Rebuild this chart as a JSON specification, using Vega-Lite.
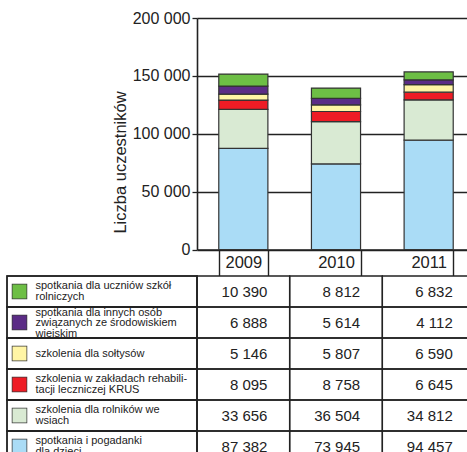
{
  "$schema": "https://vega.github.io/schema/vega-lite/v6.json",
  "padding": {"left": 3, "top": 10, "right": 0, "bottom": 0},
  "autosize": {"type": "pad"},
  "background": "white",
  "config": {
    "font": "Liberation Sans",
    "view": {"stroke": null},
    "locale": {"number": {"decimal": ",", "thousands": " ", "grouping": [3], "currency": ["", " zł"]}}
  },
  "datasets": {
    "main": [
      {"rok": "2009", "kategoria": "spotkania i pogadanki dla dzieci", "kolejnosc": 1, "liczba": 87382},
      {"rok": "2009", "kategoria": "szkolenia dla rolników we wsiach", "kolejnosc": 2, "liczba": 33656},
      {"rok": "2009", "kategoria": "szkolenia w zakładach rehabilitacji leczniczej KRUS", "kolejnosc": 3, "liczba": 8095},
      {"rok": "2009", "kategoria": "szkolenia dla sołtysów", "kolejnosc": 4, "liczba": 5146},
      {"rok": "2009", "kategoria": "spotkania dla innych osób związanych ze środowiskiem wiejskim", "kolejnosc": 5, "liczba": 6888},
      {"rok": "2009", "kategoria": "spotkania dla uczniów szkół rolniczych", "kolejnosc": 6, "liczba": 10390},
      {"rok": "2010", "kategoria": "spotkania i pogadanki dla dzieci", "kolejnosc": 1, "liczba": 73945},
      {"rok": "2010", "kategoria": "szkolenia dla rolników we wsiach", "kolejnosc": 2, "liczba": 36504},
      {"rok": "2010", "kategoria": "szkolenia w zakładach rehabilitacji leczniczej KRUS", "kolejnosc": 3, "liczba": 8758},
      {"rok": "2010", "kategoria": "szkolenia dla sołtysów", "kolejnosc": 4, "liczba": 5807},
      {"rok": "2010", "kategoria": "spotkania dla innych osób związanych ze środowiskiem wiejskim", "kolejnosc": 5, "liczba": 5614},
      {"rok": "2010", "kategoria": "spotkania dla uczniów szkół rolniczych", "kolejnosc": 6, "liczba": 8812},
      {"rok": "2011", "kategoria": "spotkania i pogadanki dla dzieci", "kolejnosc": 1, "liczba": 94457},
      {"rok": "2011", "kategoria": "szkolenia dla rolników we wsiach", "kolejnosc": 2, "liczba": 34812},
      {"rok": "2011", "kategoria": "szkolenia w zakładach rehabilitacji leczniczej KRUS", "kolejnosc": 3, "liczba": 6645},
      {"rok": "2011", "kategoria": "szkolenia dla sołtysów", "kolejnosc": 4, "liczba": 6590},
      {"rok": "2011", "kategoria": "spotkania dla innych osób związanych ze środowiskiem wiejskim", "kolejnosc": 5, "liczba": 4112},
      {"rok": "2011", "kategoria": "spotkania dla uczniów szkół rolniczych", "kolejnosc": 6, "liczba": 6832}
    ]
  },
  "columns": 2,
  "align": "each",
  "bounds": "flush",
  "spacing": {"row": 26, "column": 0},
  "concat": [
    {
      "width": 190,
      "height": 231.5,
      "data": {"values": []},
      "mark": {"type": "point"},
      "encoding": {
        "x": {"datum": 0, "type": "quantitative", "axis": null},
        "y": {"datum": 0, "type": "quantitative", "axis": null}
      }
    },
    {
      "width": 278,
      "height": 231.5,
      "data": {"name": "main"},
      "mark": {"type": "bar", "stroke": "#333333", "strokeWidth": 1.2},
      "encoding": {
        "x": {
          "field": "rok", "type": "ordinal",
          "scale": {"paddingInner": 0.47, "paddingOuter": 0.235},
          "axis": {"title": null, "labelAngle": 0, "labelFontSize": 16.5, "labelColor": "#222222", "labelPadding": -21, "labelBaseline": "top", "tickBand": "extent", "tickSize": 26, "tickWidth": 1.4, "tickColor": "#222222", "domainColor": "#222222", "domainWidth": 1.6, "grid": false}
        },
        "y": {
          "field": "liczba", "type": "quantitative", "stack": "zero",
          "scale": {"domain": [0, 200000], "nice": false},
          "axis": {"title": "Liczba uczestników", "titleFontSize": 16.5, "titleFontWeight": "normal", "titleColor": "#222222", "titleX": -69, "titleY": 144, "values": [0, 50000, 100000, 150000, 200000], "format": ",d", "labelFontSize": 16, "labelColor": "#222222", "labelPadding": 2, "tickSize": 5, "tickColor": "#222222", "tickWidth": 1.3, "domainColor": "#222222", "domainWidth": 1.6, "grid": true, "gridColor": "#222222", "gridWidth": 1.3}
        },
        "color": {
          "field": "kategoria", "type": "nominal",
          "scale": {
            "domain": ["spotkania i pogadanki dla dzieci", "szkolenia dla rolników we wsiach", "szkolenia w zakładach rehabilitacji leczniczej KRUS", "szkolenia dla sołtysów", "spotkania dla innych osób związanych ze środowiskiem wiejskim", "spotkania dla uczniów szkół rolniczych"],
            "range": ["#aadcf6", "#d9ead3", "#ee1c25", "#fff5a5", "#5b2c86", "#6dbe45"]
          },
          "legend": null
        },
        "order": {"field": "kolejnosc", "type": "quantitative", "sort": "ascending"}
      }
    },
    {
      "width": 190,
      "height": 186,
      "data": {"name": "main"},
      "transform": [{"filter": "datum.rok == '2009'"}],
      "encoding": {
        "x": {"datum": 0, "type": "quantitative", "scale": {"domain": [0, 1]}, "axis": null},
        "x2": {"datum": 1}
      },
      "layer": [
        {
          "mark": {"type": "rect", "filled": false, "stroke": "#222222", "strokeWidth": 1.4},
          "encoding": {
            "y": {
              "field": "kategoria", "type": "nominal",
              "scale": {"domain": ["spotkania dla uczniów szkół rolniczych", "spotkania dla innych osób związanych ze środowiskiem wiejskim", "szkolenia dla sołtysów", "szkolenia w zakładach rehabilitacji leczniczej KRUS", "szkolenia dla rolników we wsiach", "spotkania i pogadanki dla dzieci"], "paddingInner": 0, "paddingOuter": 0},
              "axis": {"orient": "left", "offset": -19.75, "title": null, "labels": false, "domain": false, "grid": false, "ticks": true, "tickSize": 15.5, "tickWidth": 15.5, "tickColor": "#3a3a3a", "zindex": 1}
            }
          }
        },
        {
          "mark": {"type": "rect", "filled": false, "stroke": "#222222", "strokeWidth": 1.4},
          "encoding": {
            "y": {
              "field": "kategoria", "type": "nominal",
              "axis": {
                "orient": "left", "offset": -19, "title": null, "domain": false, "grid": false,
                "tickSize": 14, "tickWidth": 14,
                "tickColor": {
                  "condition": [
                    {"test": "datum.value == 'spotkania dla uczniów szkół rolniczych'", "value": "#6dbe45"},
                    {"test": "datum.value == 'spotkania dla innych osób związanych ze środowiskiem wiejskim'", "value": "#5b2c86"},
                    {"test": "datum.value == 'szkolenia dla sołtysów'", "value": "#fff5a5"},
                    {"test": "datum.value == 'szkolenia w zakładach rehabilitacji leczniczej KRUS'", "value": "#ee1c25"},
                    {"test": "datum.value == 'szkolenia dla rolników we wsiach'", "value": "#d9ead3"}
                  ],
                  "value": "#aadcf6"
                },
                "labelExpr": "datum.value == 'spotkania dla uczniów szkół rolniczych' ? ['spotkania dla uczniów szkół', 'rolniczych'] : datum.value == 'spotkania dla innych osób związanych ze środowiskiem wiejskim' ? ['spotkania dla innych osób', 'związanych ze środowiskiem', 'wiejskim'] : datum.value == 'szkolenia w zakładach rehabilitacji leczniczej KRUS' ? ['szkolenia w zakładach rehabili-', 'tacji leczniczej KRUS'] : datum.value == 'szkolenia dla rolników we wsiach' ? ['szkolenia dla rolników we', 'wsiach'] : datum.value == 'spotkania i pogadanki dla dzieci' ? ['spotkania i pogadanki', 'dla dzieci'] : datum.label",
                "labelOffset": {
                  "condition": [
                    {"test": "datum.value == 'spotkania dla innych osób związanych ze środowiskiem wiejskim'", "value": -9.6},
                    {"test": "datum.value == 'szkolenia dla sołtysów'", "value": 0}
                  ],
                  "value": -5.3
                },
                "labelAlign": "left", "labelBaseline": "middle", "labelPadding": -23,
                "labelFontSize": 11, "labelLineHeight": 10.6, "labelColor": "#222222",
                "labelLimit": 300, "labelOverlap": false, "zindex": 2
              }
            }
          }
        }
      ],
      "resolve": {"axis": {"y": "independent"}}
    },
    {
      "width": 278,
      "height": 186,
      "data": {"name": "main"},
      "encoding": {
        "x": {"field": "rok", "type": "ordinal", "scale": {"paddingInner": 0, "paddingOuter": 0}, "axis": null},
        "y": {
          "field": "kategoria", "type": "nominal",
          "scale": {"domain": ["spotkania dla uczniów szkół rolniczych", "spotkania dla innych osób związanych ze środowiskiem wiejskim", "szkolenia dla sołtysów", "szkolenia w zakładach rehabilitacji leczniczej KRUS", "szkolenia dla rolników we wsiach", "spotkania i pogadanki dla dzieci"], "paddingInner": 0, "paddingOuter": 0},
          "axis": null
        }
      },
      "layer": [
        {"mark": {"type": "rect", "filled": false, "stroke": "#222222", "strokeWidth": 1.4}},
        {
          "mark": {"type": "text", "align": "right", "baseline": "middle", "fontSize": 15, "fill": "#222222"},
          "encoding": {
            "x": {"field": "rok", "type": "ordinal", "bandPosition": 0.76, "axis": null},
            "text": {"field": "liczba", "type": "quantitative", "format": ",d"}
          }
        }
      ]
    }
  ]
}
